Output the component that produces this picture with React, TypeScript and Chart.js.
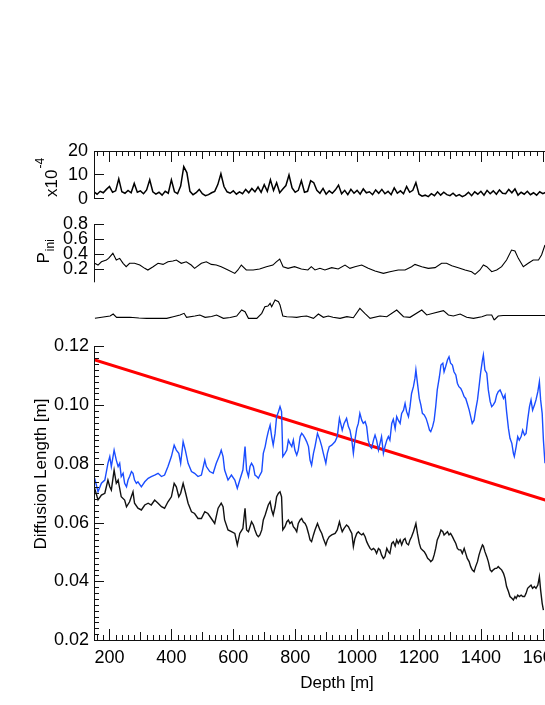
import React, { useEffect, useRef } from "react";
import { Chart, registerables } from "chart.js";

Chart.register(...registerables);

const FONT = "'Liberation Sans', Arial, Helvetica, sans-serif";
const AXIS = "#111";
const X_MIN = 150;
const X_MAX = 1800;

// ---------- tick labels ----------
const depthTicks = [200, 400, 600, 800, 1000, 1200, 1400, 1600];
const diffTicks = [0.02, 0.04, 0.06, 0.08, 0.1, 0.12];
const pIniTicks = [0.2, 0.4, 0.6, 0.8];
const fluxTicks = [0, 10, 20];

// ---------- main panel: diffusion length ----------
const blueDepth = [152, 163, 174, 185, 195, 201, 206, 215, 222, 228, 233, 238, 244, 249, 255, 260, 265, 271, 276, 281, 287, 292, 303, 314, 325, 335, 346, 357, 368, 378, 389, 400, 409, 416, 424, 430, 438, 445, 454, 465, 475, 486, 497, 508, 513, 524, 535, 545, 556, 561, 567, 572, 583, 594, 605, 613, 621, 631, 635, 638, 643, 649, 654, 659, 665, 670, 676, 681, 686, 692, 697, 703, 708, 713, 719, 724, 729, 735, 740, 746, 751, 756, 760, 767, 773, 778, 783, 789, 794, 799, 805, 810, 816, 821, 826, 832, 837, 843, 848, 853, 859, 864, 872, 880, 886, 891, 899, 904, 910, 918, 929, 936, 943, 947, 952, 958, 966, 972, 977, 983, 988, 993, 999, 1004, 1009, 1015, 1020, 1026, 1031, 1036, 1042, 1047, 1053, 1058, 1063, 1069, 1074, 1079, 1085, 1090, 1096, 1101, 1106, 1112, 1117, 1123, 1128, 1133, 1139, 1144, 1150, 1155, 1160, 1166, 1171, 1176, 1182, 1187, 1190, 1195, 1201, 1206, 1211, 1217, 1223, 1228, 1234, 1238, 1244, 1249, 1254, 1259, 1266, 1271, 1277, 1281, 1286, 1292, 1297, 1302, 1308, 1313, 1319, 1324, 1329, 1335, 1340, 1346, 1351, 1356, 1362, 1367, 1372, 1378, 1383, 1389, 1394, 1399, 1405, 1408, 1413, 1419, 1424, 1430, 1435, 1440, 1446, 1451, 1456, 1462, 1467, 1473, 1478, 1483, 1489, 1494, 1500, 1505, 1508, 1514, 1519, 1524, 1530, 1535, 1541, 1546, 1551, 1557, 1562, 1567, 1573, 1578, 1584, 1589, 1593, 1598, 1602, 1607];
const blueValue = [0.0751, 0.0705, 0.0734, 0.0745, 0.0802, 0.0825, 0.0791, 0.0847, 0.0813, 0.0791, 0.0802, 0.0757, 0.0768, 0.0734, 0.0722, 0.0745, 0.0757, 0.0774, 0.0768, 0.0745, 0.0734, 0.0739, 0.0722, 0.0739, 0.0751, 0.0757, 0.0762, 0.0768, 0.0757, 0.0762, 0.0791, 0.0825, 0.0864, 0.0847, 0.0836, 0.0802, 0.0876, 0.0847, 0.0802, 0.0774, 0.0768, 0.0757, 0.0762, 0.0813, 0.0791, 0.0774, 0.0768, 0.0802, 0.083, 0.0847, 0.0825, 0.0779, 0.0745, 0.0762, 0.0745, 0.0717, 0.0745, 0.0779, 0.0825, 0.0859, 0.0779, 0.0757, 0.0791, 0.0802, 0.0791, 0.0762, 0.0757, 0.0751, 0.0762, 0.0774, 0.0836, 0.0859, 0.0887, 0.091, 0.0932, 0.0893, 0.0864, 0.0904, 0.0961, 0.0978, 0.0995, 0.0978, 0.0825, 0.0836, 0.0847, 0.0881, 0.087, 0.0859, 0.0881, 0.0847, 0.083, 0.0847, 0.0893, 0.0904, 0.0898, 0.0887, 0.0876, 0.0859, 0.0813, 0.0796, 0.0836, 0.0859, 0.0904, 0.0881, 0.0859, 0.0836, 0.0802, 0.0836, 0.0859, 0.0864, 0.0876, 0.0893, 0.0955, 0.0938, 0.0915, 0.0938, 0.0955, 0.0927, 0.0915, 0.0881, 0.0836, 0.0881, 0.0921, 0.0938, 0.0972, 0.0949, 0.0938, 0.0944, 0.0927, 0.0881, 0.0859, 0.0853, 0.0881, 0.0898, 0.0881, 0.0847, 0.087, 0.0893, 0.0836, 0.0859, 0.0881, 0.0893, 0.0881, 0.0938, 0.0952, 0.092, 0.0961, 0.0949, 0.0938, 0.0972, 0.0983, 0.1006, 0.0978, 0.0961, 0.0995, 0.104, 0.1063, 0.1092, 0.112, 0.1075, 0.1023, 0.1001, 0.0972, 0.0967, 0.0955, 0.0938, 0.0915, 0.091, 0.0927, 0.0949, 0.0995, 0.1052, 0.1097, 0.1137, 0.1143, 0.1114, 0.1131, 0.1154, 0.1165, 0.1143, 0.1137, 0.1114, 0.1103, 0.1075, 0.1063, 0.1057, 0.1046, 0.1029, 0.1023, 0.1006, 0.0984, 0.0961, 0.0938, 0.0949, 0.0983, 0.1018, 0.1063, 0.1109, 0.1154, 0.1171, 0.112, 0.1109, 0.1052, 0.1012, 0.0995, 0.1001, 0.1012, 0.1035, 0.1046, 0.1052, 0.104, 0.1023, 0.1035, 0.0978, 0.0921, 0.0887, 0.087, 0.0836, 0.0825, 0.0859, 0.0893, 0.0881, 0.0893, 0.0915, 0.0898, 0.0904, 0.0949, 0.0995, 0.1018, 0.0983, 0.1001, 0.1018, 0.1046, 0.108, 0.1018, 0.0972, 0.0881, 0.0802];

const blackDepth = [152, 163, 174, 185, 195, 201, 206, 215, 222, 228, 238, 249, 255, 265, 276, 281, 292, 303, 314, 325, 335, 346, 357, 368, 378, 389, 400, 409, 416, 424, 430, 438, 445, 454, 465, 475, 486, 497, 508, 518, 529, 540, 551, 561, 567, 572, 583, 594, 605, 613, 621, 631, 635, 638, 643, 649, 654, 659, 665, 670, 676, 681, 686, 692, 697, 703, 708, 713, 719, 724, 729, 735, 740, 746, 751, 756, 760, 767, 773, 778, 783, 789, 794, 799, 805, 810, 816, 821, 826, 832, 837, 843, 848, 853, 859, 864, 872, 880, 886, 891, 899, 904, 910, 918, 929, 936, 943, 947, 952, 958, 966, 972, 977, 983, 988, 993, 999, 1004, 1009, 1015, 1020, 1026, 1031, 1036, 1042, 1047, 1053, 1058, 1063, 1069, 1074, 1079, 1085, 1090, 1096, 1101, 1106, 1112, 1117, 1123, 1128, 1133, 1139, 1144, 1150, 1155, 1160, 1166, 1171, 1176, 1182, 1187, 1190, 1195, 1201, 1206, 1211, 1217, 1223, 1228, 1234, 1238, 1244, 1249, 1254, 1259, 1266, 1271, 1277, 1281, 1286, 1292, 1297, 1302, 1308, 1313, 1319, 1324, 1329, 1335, 1340, 1346, 1351, 1356, 1362, 1367, 1372, 1378, 1383, 1389, 1394, 1399, 1405, 1408, 1413, 1419, 1424, 1430, 1435, 1440, 1446, 1451, 1456, 1462, 1467, 1473, 1478, 1483, 1489, 1494, 1500, 1505, 1510, 1514, 1519, 1524, 1530, 1535, 1541, 1546, 1551, 1557, 1562, 1567, 1573, 1578, 1584, 1589, 1593, 1598, 1602];
const blackValue = [0.0717, 0.0677, 0.0694, 0.07, 0.0745, 0.0722, 0.0711, 0.0779, 0.0734, 0.0745, 0.0688, 0.0677, 0.0654, 0.0671, 0.0705, 0.0666, 0.0649, 0.0643, 0.066, 0.0666, 0.066, 0.0677, 0.0666, 0.0654, 0.0649, 0.0671, 0.0688, 0.0734, 0.0722, 0.0688, 0.07, 0.0734, 0.0705, 0.0666, 0.0637, 0.0631, 0.0614, 0.0614, 0.0637, 0.0631, 0.0614, 0.0597, 0.0649, 0.0666, 0.0654, 0.0609, 0.0575, 0.0569, 0.0563, 0.0524, 0.0563, 0.058, 0.062, 0.0649, 0.0575, 0.0569, 0.0586, 0.0603, 0.0592, 0.0575, 0.0558, 0.0552, 0.0558, 0.0575, 0.0609, 0.0626, 0.0643, 0.066, 0.0671, 0.0643, 0.0626, 0.0654, 0.0688, 0.07, 0.0705, 0.0688, 0.0575, 0.0586, 0.0603, 0.0609, 0.0597, 0.0603, 0.0586, 0.058, 0.0569, 0.0597, 0.0609, 0.0614, 0.0603, 0.0597, 0.0586, 0.0563, 0.0541, 0.0535, 0.0558, 0.0575, 0.0597, 0.0575, 0.0563, 0.0546, 0.0524, 0.0541, 0.0552, 0.0558, 0.0563, 0.0575, 0.0603, 0.0586, 0.0569, 0.058, 0.0592, 0.0586, 0.0575, 0.0563, 0.0518, 0.0546, 0.0563, 0.0569, 0.0563, 0.0558, 0.0563, 0.0552, 0.0535, 0.0524, 0.0512, 0.0507, 0.0512, 0.0507, 0.0495, 0.0512, 0.0507, 0.049, 0.0478, 0.0484, 0.0512, 0.0501, 0.0495, 0.0529, 0.0535, 0.052, 0.0541, 0.0529, 0.0541, 0.0524, 0.0541, 0.0546, 0.0529, 0.0524, 0.0541, 0.0552, 0.0569, 0.0586, 0.0597, 0.0563, 0.0529, 0.0512, 0.0507, 0.0501, 0.049, 0.0478, 0.0473, 0.0467, 0.0473, 0.049, 0.0512, 0.0541, 0.0558, 0.0575, 0.0569, 0.0558, 0.0563, 0.0569, 0.0558, 0.0563, 0.0552, 0.0541, 0.0529, 0.0512, 0.0507, 0.0507, 0.0495, 0.0512, 0.0495, 0.0478, 0.0467, 0.045, 0.0439, 0.0433, 0.045, 0.0467, 0.049, 0.0507, 0.0524, 0.052, 0.0501, 0.0484, 0.0467, 0.0439, 0.0433, 0.0439, 0.0444, 0.0444, 0.045, 0.0444, 0.0439, 0.0427, 0.041, 0.0382, 0.0365, 0.0348, 0.0342, 0.0336, 0.0348, 0.0342, 0.0353, 0.0348, 0.0353, 0.0348, 0.0348, 0.0359, 0.0376, 0.0382, 0.0387, 0.0376, 0.0382, 0.0376, 0.0387, 0.0416, 0.037, 0.0325, 0.0302];

const redDepth = [150, 1800];
const redValue = [0.1155, 0.0614];

// ---------- top panel: x10^-4 ----------
const fluxDepth = [150, 160, 170, 180, 190, 200, 210, 220, 230, 240, 250, 260, 270, 280, 290, 300, 310, 320, 330, 340, 350, 360, 370, 380, 390, 400, 410, 420, 430, 440, 450, 460, 470, 480, 490, 500, 510, 520, 530, 540, 550, 560, 570, 580, 590, 600, 610, 620, 630, 640, 650, 660, 670, 680, 690, 700, 710, 720, 730, 740, 750, 760, 770, 780, 790, 800, 810, 820, 830, 840, 850, 860, 870, 880, 890, 900, 910, 920, 930, 940, 950, 960, 970, 980, 990, 1000, 1010, 1020, 1030, 1040, 1050, 1060, 1070, 1080, 1090, 1100, 1110, 1120, 1130, 1140, 1150, 1160, 1170, 1180, 1190, 1200, 1210, 1220, 1230, 1240, 1250, 1260, 1270, 1280, 1290, 1300, 1310, 1320, 1330, 1340, 1350, 1360, 1370, 1380, 1390, 1400, 1410, 1420, 1430, 1440, 1450, 1460, 1470, 1480, 1490, 1500, 1510, 1520, 1530, 1540, 1550, 1560, 1570, 1580, 1590, 1600, 1610];
const fluxValue = [3.0, 2.0, 3.2, 2.6, 4.0, 5.2, 2.8, 3.4, 8.4, 3.0, 2.4, 3.6, 2.6, 6.5, 2.8, 3.4, 2.2, 3.8, 8.0, 3.0, 2.0, 2.8, 1.6, 3.2, 2.4, 8.0, 3.0, 2.2, 5.4, 13.5, 11.0, 3.2, 1.8, 2.6, 4.0, 2.2, 1.4, 1.8, 2.6, 3.2, 6.0, 10.5, 5.2, 3.0, 2.4, 3.4, 2.0, 3.0, 2.2, 4.0, 2.6, 4.4, 3.0, 5.0, 2.8, 6.0, 3.2, 8.0, 3.6, 6.8, 2.6, 4.2, 5.6, 10.0, 4.6, 2.8, 3.6, 7.6, 2.8, 3.2, 7.6, 6.8, 3.6, 2.4, 4.4, 2.0, 3.4, 2.4, 3.8, 5.8, 2.2, 3.6, 1.8, 4.0, 2.4, 3.6, 2.0, 4.2, 2.6, 3.0, 1.8, 3.8, 2.4, 4.0, 2.2, 3.2, 1.8, 4.6, 2.4, 3.4, 2.2, 5.2, 2.8, 3.6, 6.8, 2.0, 1.2, 1.6, 1.0, 2.2, 1.4, 3.0, 1.6, 2.8, 1.8, 1.4, 2.4, 1.2, 1.8, 1.0, 1.6, 2.8, 1.4, 3.0, 2.0, 3.2, 1.6, 3.6, 2.2, 3.4, 2.0, 3.8, 2.4, 2.2, 4.0, 2.6, 4.2, 1.6, 2.8, 2.0, 3.2, 1.8, 2.6, 1.6, 3.0, 2.2, 2.8];

// ---------- second panel: P_ini ----------
const pIniDepth = [152, 163, 174, 190, 197, 211, 222, 233, 244, 254, 265, 281, 298, 314, 324, 341, 357, 373, 389, 405, 416, 432, 448, 464, 475, 497, 513, 529, 545, 561, 583, 605, 615, 626, 642, 664, 685, 707, 728, 739, 750, 761, 777, 798, 820, 841, 852, 864, 880, 896, 918, 939, 961, 977, 993, 1015, 1036, 1058, 1085, 1106, 1133, 1155, 1176, 1187, 1209, 1230, 1252, 1273, 1289, 1306, 1327, 1349, 1370, 1381, 1397, 1408, 1419, 1435, 1451, 1467, 1483, 1499, 1510, 1521, 1537, 1553, 1569, 1586, 1596, 1607];
const pIniValue = [0.28, 0.257, 0.3, 0.324, 0.346, 0.413, 0.324, 0.346, 0.28, 0.235, 0.28, 0.28, 0.257, 0.213, 0.191, 0.235, 0.28, 0.266, 0.3, 0.311, 0.324, 0.28, 0.3, 0.257, 0.213, 0.28, 0.3, 0.266, 0.257, 0.235, 0.191, 0.146, 0.191, 0.257, 0.191, 0.191, 0.204, 0.235, 0.257, 0.3, 0.337, 0.235, 0.213, 0.235, 0.204, 0.191, 0.235, 0.191, 0.213, 0.191, 0.222, 0.204, 0.257, 0.213, 0.235, 0.257, 0.213, 0.177, 0.146, 0.168, 0.191, 0.191, 0.235, 0.266, 0.235, 0.213, 0.222, 0.28, 0.28, 0.248, 0.222, 0.191, 0.168, 0.133, 0.191, 0.257, 0.235, 0.168, 0.191, 0.235, 0.324, 0.457, 0.444, 0.346, 0.235, 0.28, 0.324, 0.324, 0.391, 0.524];

// ---------- third panel (no axis) ----------
const thirdDepth = [153, 175, 202, 212, 223, 245, 266, 295, 320, 350, 385, 406, 428, 441, 449, 476, 492, 509, 530, 546, 568, 590, 611, 627, 638, 649, 676, 692, 702, 712, 719, 724, 735, 746, 751, 760, 773, 790, 805, 820, 837, 859, 875, 891, 907, 922, 945, 967, 988, 1009, 1025, 1042, 1074, 1096, 1128, 1150, 1171, 1209, 1225, 1246, 1279, 1295, 1311, 1333, 1354, 1376, 1403, 1419, 1435, 1443, 1456, 1472, 1500, 1600, 1700];
const thirdValue = [0.087, 0.13, 0.18, 0.26, 0.127, 0.127, 0.127, 0.1, 0.087, 0.087, 0.087, 0.153, 0.22, 0.287, 0.127, 0.18, 0.22, 0.127, 0.16, 0.22, 0.087, 0.12, 0.18, 0.42, 0.353, 0.087, 0.087, 0.287, 0.553, 0.58, 0.687, 0.553, 0.82, 0.753, 0.62, 0.18, 0.153, 0.14, 0.127, 0.16, 0.18, 0.087, 0.26, 0.127, 0.18, 0.127, 0.087, 0.153, 0.11, 0.487, 0.287, 0.087, 0.18, 0.153, 0.42, 0.153, 0.127, 0.42, 0.22, 0.287, 0.393, 0.22, 0.18, 0.26, 0.127, 0.087, 0.153, 0.22, 0.22, 0.02, 0.18, 0.2, 0.2, 0.2, 0.2];

const pts = (xs: number[], ys: number[]) => xs.map((x, i) => ({ x, y: ys[i] }));

const CANVAS_W = 700;
const CANVAS_H = 705;
const RIGHT_PAD = 95.3;

function line(data: { x: number; y: number }[], color: string, width: number) {
  return { data, borderColor: color, borderWidth: width, pointRadius: 0, tension: 0, fill: false };
}

function baseOptions(top: number, bottom: number, left: number) {
  return {
    animation: false,
    responsive: false,
    events: [],
    layout: { padding: { top, bottom, left, right: RIGHT_PAD } },
    plugins: { legend: { display: false }, tooltip: { enabled: false } },
  };
}

function drawXTicks(ctx: CanvasRenderingContext2D, x: any, y0: number, dir: number) {
  for (let d = 160; d <= X_MAX; d += 20) {
    const px = Math.round(x.getPixelForValue(d)) + 0.5;
    const len = d % 200 === 0 ? 11 : d % 100 === 0 ? 8 : 5;
    ctx.moveTo(px, y0);
    ctx.lineTo(px, y0 + dir * len);
  }
}

const topDeco = {
  id: "topDeco",
  afterDraw(chart: any) {
    const { ctx, chartArea: a, scales } = chart;
    ctx.save();
    ctx.strokeStyle = AXIS;
    ctx.lineWidth = 1;
    ctx.beginPath();
    ctx.moveTo(a.left, a.top + 0.5);
    ctx.lineTo(chart.width, a.top + 0.5);
    ctx.moveTo(a.left + 0.5, a.top);
    ctx.lineTo(a.left + 0.5, a.bottom);
    drawXTicks(ctx, scales.x, a.top, 1);
    [0, 10].forEach((v) => {
      const py = Math.round(scales.y.getPixelForValue(v)) - 0.5;
      ctx.moveTo(a.left, py);
      ctx.lineTo(a.left + 10, py);
    });
    ctx.stroke();
    ctx.fillStyle = "#000";
    ctx.translate(57, 197);
    ctx.rotate(-Math.PI / 2);
    ctx.textAlign = "left";
    ctx.textBaseline = "alphabetic";
    ctx.font = `17px ${FONT}`;
    ctx.fillText("x10", 0, 0);
    const w = ctx.measureText("x10").width;
    ctx.font = `12px ${FONT}`;
    ctx.fillText("-4", w + 1, -13);
    ctx.restore();
  },
};

const pIniDeco = {
  id: "pIniDeco",
  afterDraw(chart: any) {
    const { ctx, chartArea: a, scales } = chart;
    ctx.save();
    ctx.strokeStyle = AXIS;
    ctx.lineWidth = 1;
    ctx.beginPath();
    ctx.moveTo(a.left + 0.5, a.top);
    ctx.lineTo(a.left + 0.5, a.bottom);
    pIniTicks.forEach((v) => {
      const py = Math.round(scales.y.getPixelForValue(v)) + 0.5;
      ctx.moveTo(a.left, py);
      ctx.lineTo(a.left + 10, py);
    });
    ctx.stroke();
    ctx.fillStyle = "#000";
    ctx.translate(48.5, 263.5);
    ctx.rotate(-Math.PI / 2);
    ctx.textAlign = "left";
    ctx.textBaseline = "alphabetic";
    ctx.font = `17px ${FONT}`;
    ctx.fillText("P", 0, 0);
    const w = ctx.measureText("P").width;
    ctx.font = `12px ${FONT}`;
    ctx.fillText("ini", w + 1, 5);
    ctx.restore();
  },
};

const mainDeco = {
  id: "mainDeco",
  afterDraw(chart: any) {
    const { ctx, chartArea: a, scales } = chart;
    ctx.save();
    ctx.strokeStyle = AXIS;
    ctx.lineWidth = 1;
    ctx.beginPath();
    ctx.moveTo(a.left + 0.5, a.top);
    ctx.lineTo(a.left + 0.5, a.bottom);
    ctx.moveTo(a.left, a.bottom + 0.5);
    ctx.lineTo(chart.width, a.bottom + 0.5);
    drawXTicks(ctx, scales.x, a.bottom, -1);
    for (let i = 0; i <= 50; i++) {
      const v = 0.02 + i * 0.002;
      const py = Math.round(scales.y.getPixelForValue(v)) + 0.5;
      const len = i % 10 === 0 ? 10 : 5;
      ctx.moveTo(a.left, py);
      ctx.lineTo(a.left + len, py);
    }
    ctx.stroke();
    ctx.fillStyle = "#000";
    ctx.font = `17px ${FONT}`;
    ctx.textAlign = "center";
    ctx.textBaseline = "alphabetic";
    ctx.fillText("Depth [m]", 337, 688);
    ctx.translate(45.5, 474);
    ctx.rotate(-Math.PI / 2);
    ctx.fillText("Diffusion Length [m]", 0, 0);
    ctx.restore();
  },
};

const tickFont = { family: FONT, size: 18 };

function yTicks(padding: number, fmt: (v: number) => string) {
  return { padding, color: "#000", font: tickFont, autoSkip: false, callback: (v: any) => fmt(Number(v)) };
}

function topConfig(): any {
  return {
    type: "line",
    data: { datasets: [line(pts(fluxDepth, fluxValue), "#000", 1.5)] },
    options: {
      ...baseOptions(151, CANVAS_H - 199, 0),
      scales: {
        x: { type: "linear", min: X_MIN, max: X_MAX, display: false },
        y: {
          type: "linear", min: 0, max: 20,
          grid: { display: false, drawTicks: false }, border: { display: false },
          afterBuildTicks: (s: any) => { s.ticks = fluxTicks.map((v) => ({ value: v })); },
          afterFit: (s: any) => { s.width = 94; },
          ticks: yTicks(6, (v) => String(v)),
        },
      },
    },
    plugins: [topDeco],
  };
}

function pIniConfig(): any {
  return {
    type: "line",
    data: { datasets: [line(pts(pIniDepth, pIniValue), "#000", 1.1)] },
    options: {
      ...baseOptions(224.3, CANVAS_H - 282.3, 0),
      scales: {
        x: { type: "linear", min: X_MIN, max: X_MAX, display: false },
        y: {
          type: "linear", min: 0.027, max: 0.8,
          grid: { display: false, drawTicks: false }, border: { display: false },
          afterBuildTicks: (s: any) => { s.ticks = pIniTicks.map((v) => ({ value: v })); },
          afterFit: (s: any) => { s.width = 94; },
          ticks: yTicks(6, (v) => v.toFixed(1)),
        },
      },
    },
    plugins: [pIniDeco],
  };
}

function thirdConfig(): any {
  return {
    type: "line",
    data: { datasets: [line(pts(thirdDepth, thirdValue), "#000", 1.1)] },
    options: {
      ...baseOptions(295.5, CANVAS_H - 320.5, 94),
      scales: {
        x: { type: "linear", min: X_MIN, max: X_MAX, display: false },
        y: { type: "linear", min: 0, max: 1, display: false },
      },
    },
  };
}

function mainConfig(): any {
  return {
    type: "line",
    data: {
      datasets: [
        line(pts(blueDepth, blueValue), "#1a4dff", 1.4),
        line(pts(blackDepth, blackValue), "#111", 1.4),
        line(pts(redDepth, redValue), "#ff0000", 3),
      ],
    },
    options: {
      ...baseOptions(346.5, 0, 0),
      scales: {
        x: {
          type: "linear", min: X_MIN, max: X_MAX,
          grid: { display: false, drawTicks: false }, border: { display: false },
          afterBuildTicks: (s: any) => { s.ticks = depthTicks.map((v) => ({ value: v })); },
          afterFit: (s: any) => { s.height = 65; },
          ticks: { padding: 7, color: "#000", font: tickFont, autoSkip: false, maxRotation: 0, callback: (v: any) => String(v) },
        },
        y: {
          type: "linear", min: 0.02, max: 0.12,
          grid: { display: false, drawTicks: false }, border: { display: false },
          afterBuildTicks: (s: any) => { s.ticks = diffTicks.map((v) => ({ value: v })); },
          afterFit: (s: any) => { s.width = 94; },
          ticks: yTicks(5, (v) => v.toFixed(2)),
        },
      },
    },
    plugins: [mainDeco],
  };
}

export default function App() {
  const r1 = useRef<HTMLCanvasElement>(null);
  const r2 = useRef<HTMLCanvasElement>(null);
  const r3 = useRef<HTMLCanvasElement>(null);
  const r4 = useRef<HTMLCanvasElement>(null);

  useEffect(() => {
    const charts = [
      new Chart(r1.current as HTMLCanvasElement, topConfig()),
      new Chart(r2.current as HTMLCanvasElement, pIniConfig()),
      new Chart(r3.current as HTMLCanvasElement, thirdConfig()),
      new Chart(r4.current as HTMLCanvasElement, mainConfig()),
    ];
    return () => charts.forEach((c) => c.destroy());
  }, []);

  const cs: React.CSSProperties = { position: "absolute", left: 0, top: 0 };
  return (
    <div style={{ position: "absolute", left: 0, top: 0, width: 545, height: 705, overflow: "hidden", background: "#fff" }}>
      <canvas ref={r1} width={CANVAS_W} height={CANVAS_H} style={cs} />
      <canvas ref={r2} width={CANVAS_W} height={CANVAS_H} style={cs} />
      <canvas ref={r3} width={CANVAS_W} height={CANVAS_H} style={cs} />
      <canvas ref={r4} width={CANVAS_W} height={CANVAS_H} style={cs} />
    </div>
  );
}
